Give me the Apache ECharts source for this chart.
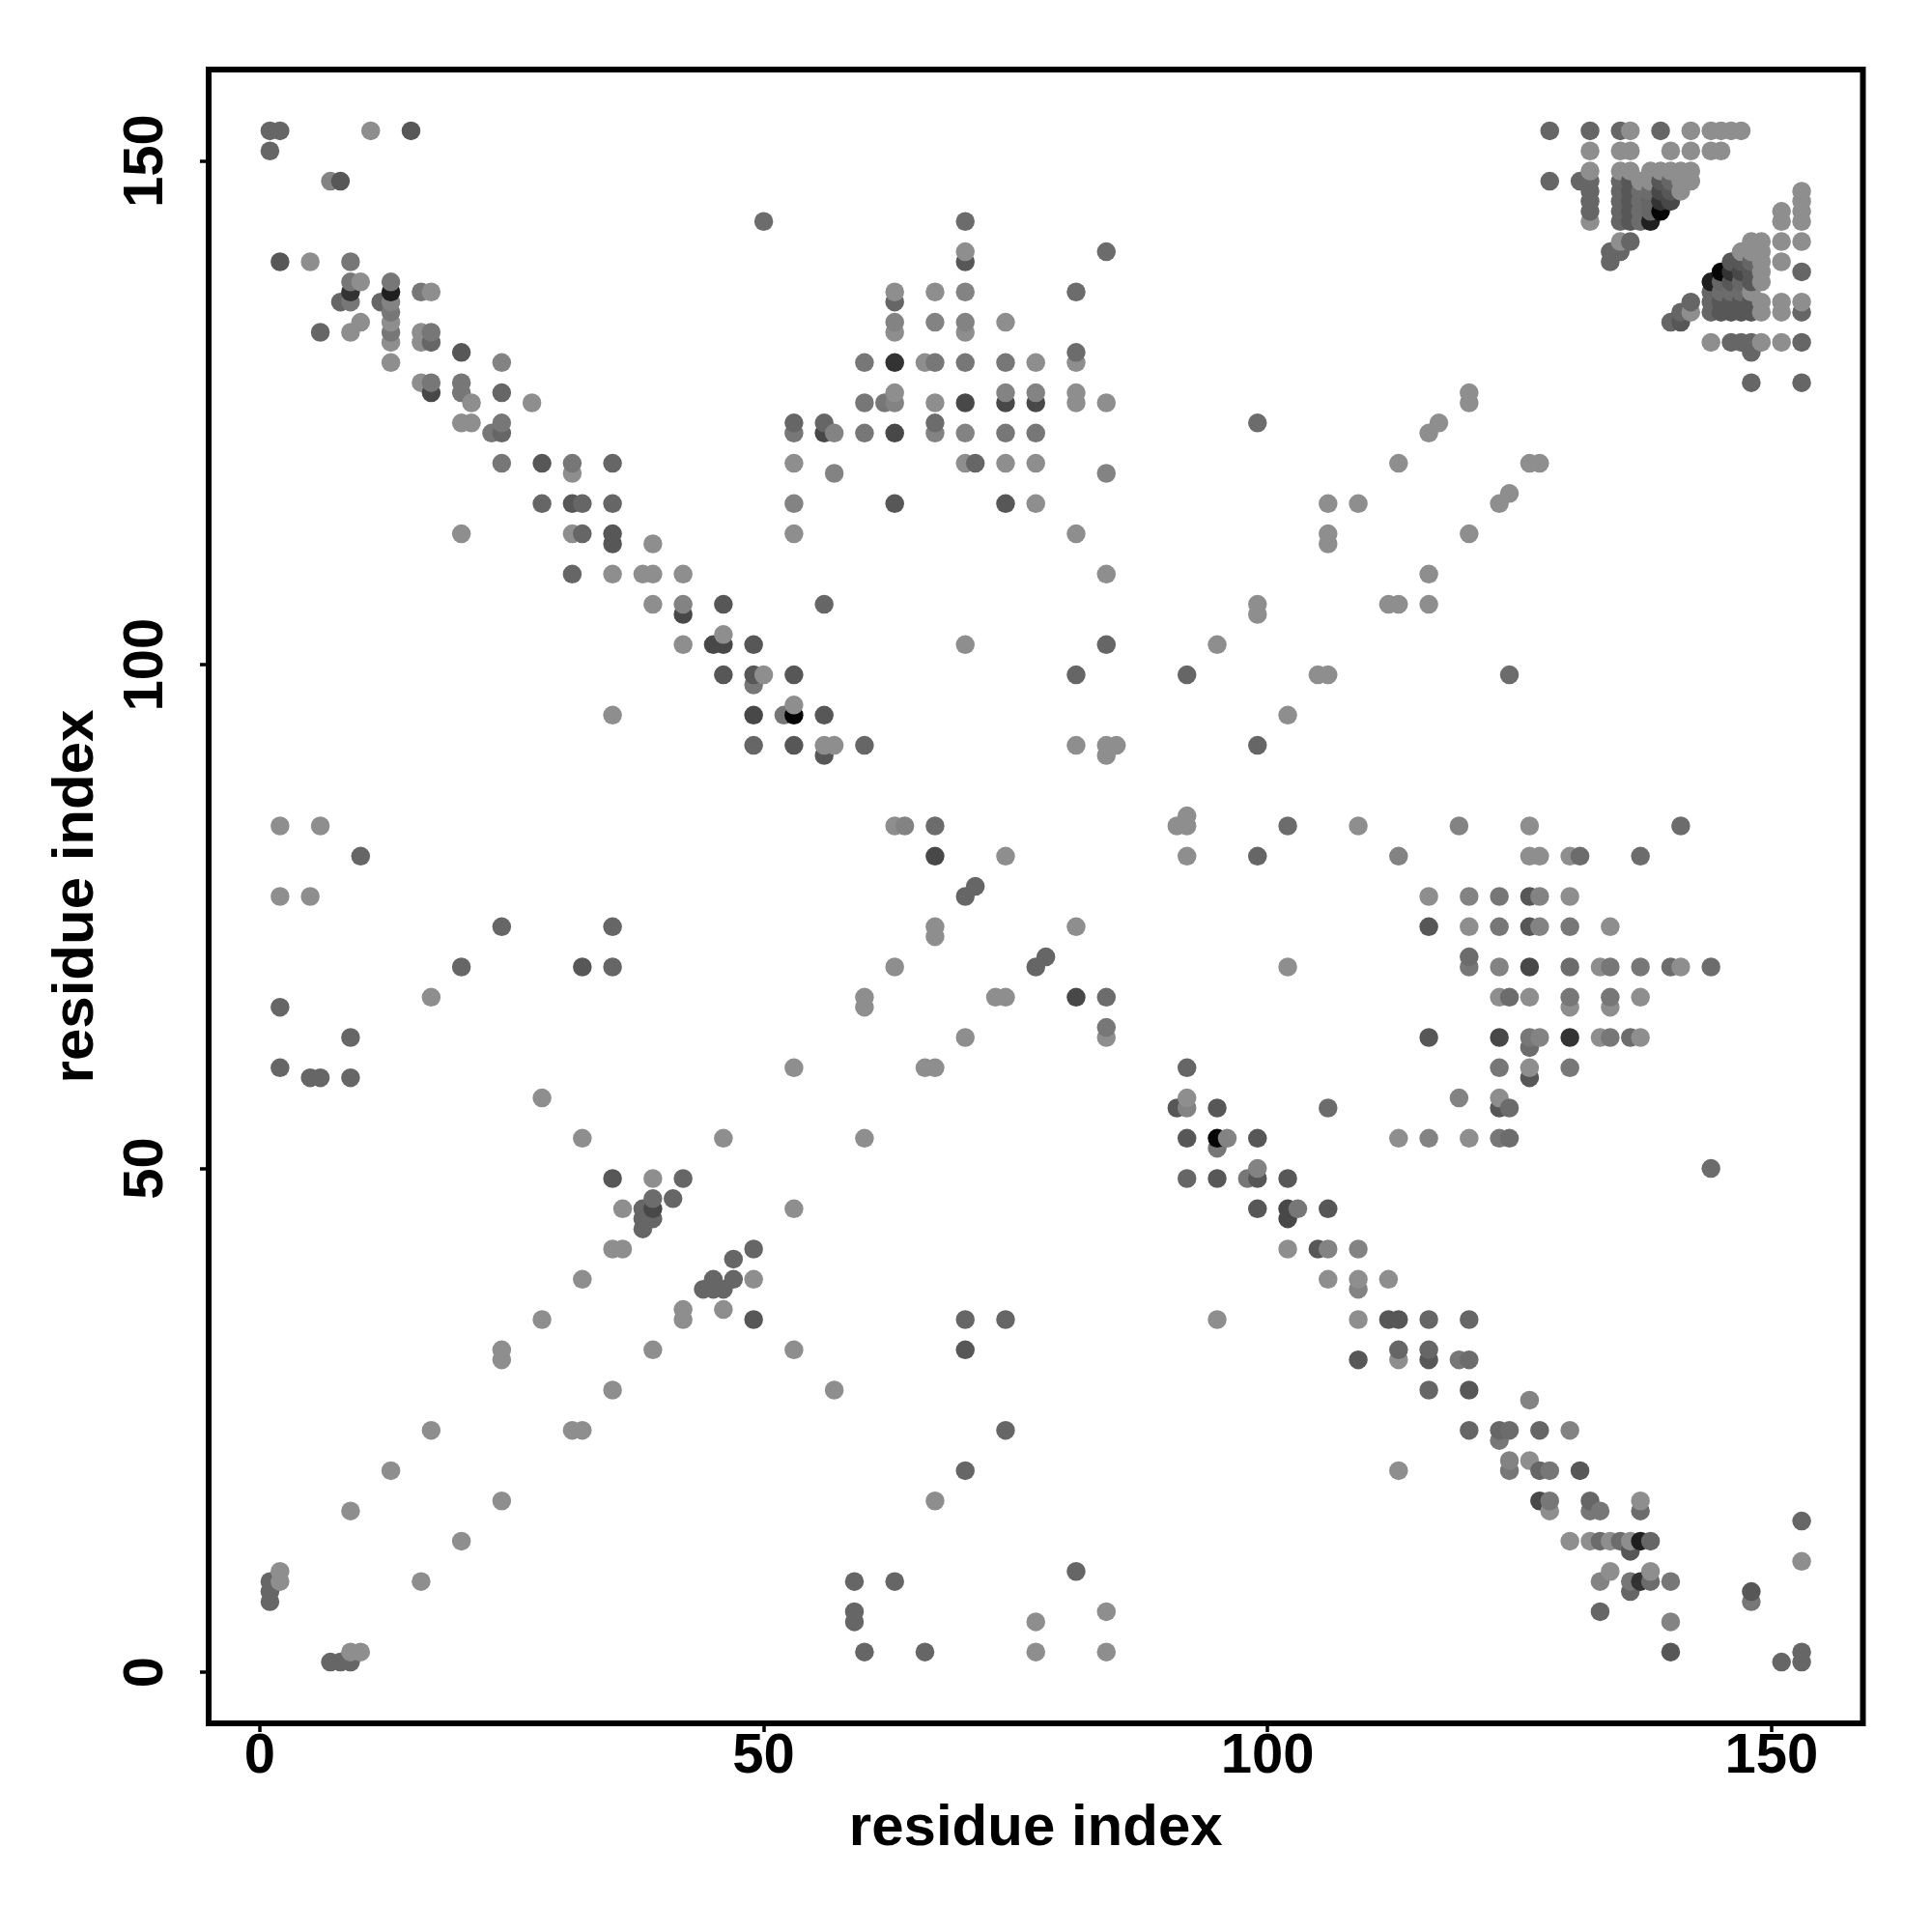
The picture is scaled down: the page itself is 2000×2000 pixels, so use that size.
<!DOCTYPE html>
<html>
<head>
<meta charset="utf-8">
<style>html,body{margin:0;padding:0;background:#fff}#c{width:2000px;height:2000px}</style>
<script src="https://cdn.jsdelivr.net/npm/echarts@6/dist/echarts.min.js"></script>
</head>
<body>
<div id="c"></div>
<script>
const axisTitle = "residue index";
const tickValues = [0, 50, 100, 150];

const light = [[11,153],[5,140],[10,138],[17,137],[10,134],[13,134],[9,133],[16,133],[13,132],[16,132],[13,130],[16,128],[21,126],[27,126],[20,124],[21,124],[31,119],[20,113],[31,113],[39,112],[35,109],[38,109],[39,109],[42,109],[39,106],
[70,141],[63,137],[67,137],[74,134],[63,133],[70,133],[66,130],[77,130],[81,130],[63,127],[81,127],[67,126],[81,126],[84,126],[53,120],[70,120],[74,120],[77,120],[77,116],[53,113],[81,113],[84,109],[99,106],[99,105],
[136,153],[142,153],[144,153],[145,153],[146,153],[147,153],[132,151],[135,151],[136,151],[140,151],[142,151],[144,151],[145,151],[132,149],[135,149],[136,149],[138,149],[139,149],[140,149],[141,149],[142,149],[137,148],[138,148],[141,148],[142,148],[141,147],[132,144],[135,142],
[153,147],[153,146],[153,145],[153,144],[151,145],[151,144],[151,142],[153,142],[151,140],[148,142],[149,142],[147,141],[148,141],[149,141],[149,140],[149,139],[149,138],[148,137],[149,136],[149,135],[151,136],[151,135],[153,136],[142,135],[144,132],[149,132],[151,132],
[120,127],[120,126],[117,124],[116,123],[113,120],[127,120],[126,120],[124,117],[123,116],[106,116],[109,116],[120,113],[106,113],[106,112],[116,109],[112,106],[113,106],[116,106],
[42,102],[46,103],[50,99],[35,95],[2,84],[6,84],[2,77],[5,77],[17,67],[28,57],[32,53],[46,53],[70,102],[95,102],[53,96],[56,92],[57,92],[102,95],[81,92],[84,92],[85,92],[84,91],[63,84],[91,84],[92,84],[92,85],[74,81],[92,81],[67,74],[67,73],[81,74],[63,70],[102,70],[60,67],[60,66],[73,67],[74,67],[84,63],[70,63],[53,60],[66,60],[67,60],[92,57],[60,53],
[105,99],[106,99],[109,84],[126,84],[126,81],[127,81],[130,81],[116,77],[130,77],[120,74],[134,74],[133,70],[141,70],[123,67],[126,67],[130,66],[134,66],[137,67],[133,63],[137,63],[126,60],[123,57],[113,53],[120,53],
[39,49],[36,46],[35,42],[36,42],[32,39],[49,39],[42,36],[42,35],[46,36],[28,35],[24,32],[24,31],[39,32],[35,28],[17,24],[31,24],[32,24],[13,20],[24,17],[9,16],[20,13],[16,9],[2,10],[2,9],[9,2],[10,2],
[53,46],[95,35],[53,32],[57,28],[67,17],[84,6],[77,5],[77,2],[84,2],
[102,42],[106,39],[109,39],[112,39],[109,35],[113,31],[113,20],[126,21],[130,13],[132,13],[134,13],[136,13],[153,11],[134,10],[138,10],[137,17],[128,16]];

const paleMid = [[7,148],[24,130],[13,136],[42,106],[70,137],[63,134],[67,134],[70,134],[74,127],[77,127],[57,123],[67,123],[70,123],[57,119],[84,119],[53,116],[63,126],
[64,84],[96,53],[92,56],[119,84],[113,81],[120,77],[123,70],[119,57],[116,53],[127,77],[127,74],[127,63],[99,50],
[106,42],[109,42],[109,38],[126,27],[124,21],[133,9],[140,5],[130,24]];

const mid = [[9,140],[9,138],[13,138],[16,137],[9,136],[13,135],[13,133],[17,133],[17,128],[20,128],[20,127],[24,124],[23,123],[24,120],[31,120],
[60,130],[67,130],[70,130],[74,130],[60,126],[62,126],[53,123],[60,123],[74,123],[77,123],[84,64],[52,95],[95,52],[49,98],[103,46],[98,49],
[120,70],[123,77],[123,74],[130,74],[134,70],[137,70],[130,67],[134,67],[126,63],[134,63],[123,60],[130,60],[123,53],[119,31],[124,20],[128,20],[123,23],[128,17],[132,16],[133,16],[136,9],[140,9],[148,7]];

const midDark = [[50,144],[70,144],[84,141],[81,137],[67,124],[99,124],[81,131],[130,70],[136,63],[124,67],[120,71],[133,13],[135,13],[124,24],[126,62],[120,31],[67,84],[102,84],[84,67],[39,47],[138,9],[144,50],[141,84],[131,81],[137,81],[140,70],[144,70],[106,56],[124,56],[124,53],[124,99],[137,16],
[137,147],[137,146],[137,145],[137,144],[138,147],[145,137],[146,137],[147,137]];

const dark = [[1,153],[2,153],[1,151],[6,133],[8,136],[12,136],[17,132],[24,127],[24,123],[28,116],[32,116],[35,120],[35,116],[32,113],[31,109],[63,136],[53,124],[56,124],[71,120],[56,106],[60,92],[92,60],[99,92],[99,81],[71,78],[70,77],[78,71],[77,70],[81,99],[92,99],[84,102],[10,81],[24,74],[35,74],[20,70],[35,70],[2,66],[9,63],[2,60],[5,59],[6,59],[9,59],[49,92],[42,49],[41,47],[38,46],[38,45],[39,45],[38,44],[49,42],[47,41],[45,39],[47,39],[44,38],[45,38],[46,38],[1,9],[1,8],[1,7],[7,1],[8,1],[9,1],[92,49],[70,35],[74,35],[74,24],[70,20],[81,10],[59,9],[63,9],[59,6],[59,5],[60,2],[66,2],[113,32],[116,32],[116,28],[116,35],[120,35],[120,24],[123,24],[127,24],[127,20],[132,17],[133,6],[136,8],[138,13],[153,15],[153,2],[151,1],[153,1],
[128,153],[132,153],[135,153],[139,153],[128,148],[131,148],[132,148],[132,147],[132,146],[132,145],[135,148],[135,147],[135,146],[135,145],[135,144],[140,148],[136,142],[134,141],[135,141],[134,140],[153,139],[144,137],[144,136],[144,135],[142,136],[141,135],[140,134],[146,132],[147,132],[148,132],[153,132],[148,131],[148,128],[153,128],[153,135],[138,146],[138,145],[145,138],[147,138],[148,140]];

const darker = [[15,153],[8,148],[2,140],[70,140],[20,131],[28,120],[31,116],[35,113],[35,112],[46,106],[53,99],[46,99],[49,99],[49,102],[53,92],[56,95],[56,91],[91,56],[95,56],[92,53],[99,53],[63,116],[74,116],[32,70],[116,74],[126,77],[126,74],[116,63],[126,59],[123,56],[35,49],[95,49],[99,49],[102,49],[99,46],[106,46],[49,35],[70,32],[105,42],[112,35],[113,35],[109,31],[116,31],[120,28],[131,20],[136,12],[148,8],[140,2],
[136,148],[136,147],[136,146],[136,145],[136,144],[141,134],[145,136],[146,136],[147,136],[148,136],[145,135],[146,135],[147,135],[148,135],[139,148],[140,147],[146,138],[146,140],[147,140],[148,138],[148,139]];

const deep = [[42,105],[45,102],[46,102],[49,95],[70,126],[74,126],[77,126],[63,123],[56,123],[17,127],[126,70],[123,63],[127,17],[39,46],[102,46],[102,45],[67,81],[81,67],[139,147],[140,146],[147,139]];

const charcoal = [[9,137],[63,130],[130,63],[137,9],[139,146],[146,139]];

const nearBlack = [[13,137],[137,13],[144,138],[138,144]];

const black = [[139,145],[145,139],[53,95],[95,53]];

const shades = [
  [light, '#8e8e8e'], [paleMid, '#838383'], [mid, '#777777'], [midDark, '#6c6c6c'],
  [dark, '#666666'], [darker, '#575757'], [deep, '#484848'], [charcoal, '#333333'],
  [nearBlack, '#1f1f1f'], [black, '#050505']
];

const points = [];
shades.forEach(([list, color]) => list.forEach(p => points.push({ value: p, itemStyle: { color } })));
points.sort((a, b) => a.value[0] - b.value[0] || a.value[1] - b.value[1]);

const font = '"Liberation Sans", Arial, sans-serif';
const chart = echarts.init(document.getElementById('c'), null, { renderer: 'canvas' });
const axisBase = {
  type: 'value', min: -5.08, max: 159.08, name: axisTitle, nameLocation: 'middle',
  nameTextStyle: { color: '#000', fontFamily: font, fontWeight: 'bold', fontSize: 60 },
  splitLine: { show: false }, axisLine: { show: false, onZero: false },
  axisTick: { show: true, length: 9, inside: false, lineStyle: { color: '#000', width: 3.5 }, customValues: tickValues }
};
chart.setOption({
  animation: false,
  backgroundColor: '#fff',
  grid: { left: 216, top: 72, width: 1712.5, height: 1712, show: true, borderColor: '#000', borderWidth: 6, backgroundColor: '#fff' },
  xAxis: Object.assign({}, axisBase, {
    nameGap: 79.5,
    axisLabel: { color: '#000', fontFamily: font, fontWeight: 'bold', fontSize: 58, margin: 6, customValues: tickValues, formatter: v => String(v) }
  }),
  yAxis: Object.assign({}, axisBase, {
    nameGap: 107,
    axisLabel: { color: '#000', fontFamily: font, fontWeight: 'bold', fontSize: 58, margin: 35, rotate: 90, customValues: tickValues, formatter: v => String(v) }
  }),
  series: [{
    type: 'scatter', symbol: 'circle', symbolSize: 19.5, silent: true,
    itemStyle: { opacity: 1 }, data: points, large: false, progressive: 0
  }]
});
</script>
</body>
</html>
